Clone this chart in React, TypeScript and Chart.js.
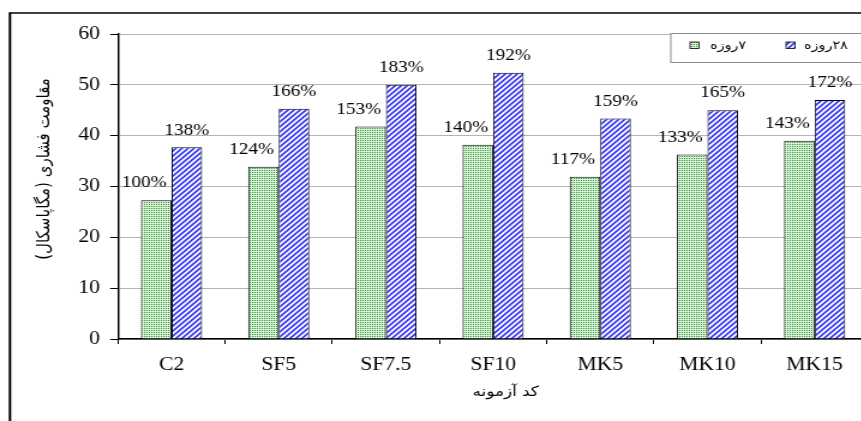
import { useEffect, useRef } from 'react';
import { Chart, registerables } from 'chart.js';

Chart.register(...registerables);

// Test specimens and compressive strength (MPa)
const categories = ['C2', 'SF5', 'SF7.5', 'SF10', 'MK5', 'MK10', 'MK15'];
const strength7 = [27.3, 33.9, 41.8, 38.2, 31.9, 36.3, 39.0];
const strength28 = [37.7, 45.3, 50.0, 52.4, 43.4, 45.0, 47.0];
// Strength relative to the 7-day control mix
const ratio7 = ['100%', '124%', '153%', '140%', '117%', '133%', '143%'];
const ratio28 = ['138%', '166%', '183%', '192%', '159%', '165%', '172%'];
const seriesNames = ['۷روزه', '۲۸روزه'];
const yTitle = 'مقاومت فشاری (مگاپاسکال)';
const xTitle = 'کد آزمونه';
const yMin = 0;
const yMax = 60;
const yStep = 10;

// The drawing is laid out in a narrower space and stretched sideways
const STRETCH = 1.2;
const W = 740;
const H = 421;
const SERIF = '"Liberation Serif", "Times New Roman", serif';
const ARABIC = '"DejaVu Sans", sans-serif';

function makeTile(w: number, h: number, paint: (g: CanvasRenderingContext2D) => void) {
  const c = document.createElement('canvas');
  c.width = w;
  c.height = h;
  const g = c.getContext('2d') as CanvasRenderingContext2D;
  paint(g);
  return c;
}

// light green ground with a regular grid of dark green dots
function dotPattern(ctx: CanvasRenderingContext2D) {
  const tile = makeTile(2, 2, (g) => {
    g.fillStyle = '#dcf1dc';
    g.fillRect(0, 0, 2, 2);
    g.fillStyle = '#2c962c';
    g.fillRect(0, 0, 1, 1);
  });
  return ctx.createPattern(tile, 'repeat') as CanvasPattern;
}

// white ground with rising blue diagonal stripes
function stripePattern(ctx: CanvasRenderingContext2D) {
  const tile = makeTile(5, 5, (g) => {
    g.fillStyle = '#ffffff';
    g.fillRect(0, 0, 5, 5);
    g.strokeStyle = '#3434f4';
    g.lineWidth = 1.6;
    for (let a = -5; a <= 5; a += 5) {
      g.beginPath();
      g.moveTo(a - 1, 6);
      g.lineTo(a + 6, -1);
      g.stroke();
    }
  });
  return ctx.createPattern(tile, 'repeat') as CanvasPattern;
}

export default function App() {
  const canvasRef = useRef<HTMLCanvasElement | null>(null);

  useEffect(() => {
    const canvas = canvasRef.current;
    if (!canvas) return;
    const ctx = canvas.getContext('2d') as CanvasRenderingContext2D;
    const green = dotPattern(ctx);
    const blue = stripePattern(ctx);

    const decor = {
      id: 'decor',
      beforeDraw(chart: Chart) {
        const c = chart.ctx;
        c.save();
        c.fillStyle = '#ffffff';
        c.fillRect(0, 0, chart.width, chart.height);
        c.strokeStyle = '#000';
        c.lineWidth = 1.5;
        c.beginPath();
        c.moveTo(8.3, 13);
        c.lineTo(chart.width + 5, 13);
        c.stroke();
        c.lineWidth = 2;
        c.beginPath();
        c.moveTo(8.3, 12.25);
        c.lineTo(8.3, chart.height + 5);
        c.stroke();
        c.restore();
      },
      afterDatasetsDraw(chart: Chart) {
        const c = chart.ctx;
        c.save();
        c.fillStyle = '#000';
        c.font = `16px ${SERIF}`;
        c.textAlign = 'center';
        c.textBaseline = 'middle';
        const lists = [ratio7, ratio28];
        const shift = [-10, 0];
        lists.forEach((labels, di) => {
          chart.getDatasetMeta(di).data.forEach((bar: any, i: number) => {
            c.fillText(labels[i], bar.x + shift[di], bar.y - 17);
          });
        });
        c.restore();
      },
      afterDraw(chart: Chart) {
        const c = chart.ctx;
        c.save();
        c.fillStyle = '#000';
        c.font = `15px ${ARABIC}`;
        c.direction = 'rtl';
        c.textAlign = 'center';
        c.textBaseline = 'middle';
        // vertical axis title
        c.save();
        c.translate(37.5, 169);
        c.rotate(-Math.PI / 2);
        c.fillText(yTitle, 0, 0);
        c.restore();
        // horizontal axis title
        c.font = `14px ${ARABIC}`;
        c.fillText(xTitle, 421.4, 392);

        // legend box
        c.strokeStyle = '#8a8a8a';
        c.lineWidth = 1;
        c.fillStyle = '#ffffff';
        c.fillRect(559, 33.5, chart.width, 29);
        c.strokeRect(559, 33.5, chart.width, 29);
        const fills = [green, blue];
        const swatchX = [575, 655];
        const textX = [591.7, 670];
        c.font = `12px ${ARABIC}`;
        c.textAlign = 'left';
        seriesNames.forEach((name, i) => {
          c.fillStyle = fills[i];
          c.fillRect(swatchX[i], 42, 7.5, 6.5);
          c.strokeStyle = '#000';
          c.lineWidth = 0.8;
          c.strokeRect(swatchX[i], 42, 7.5, 6.5);
          c.fillStyle = '#000';
          c.fillText(name, textX[i], 46);
        });
        c.restore();
      },
    };

    const chart = new Chart(canvas, {
      type: 'bar',
      data: {
        labels: categories,
        datasets: [
          {
            label: seriesNames[0],
            data: strength7,
            backgroundColor: green,
            borderColor: '#000',
            borderWidth: 1,
            categoryPercentage: 0.57,
            barPercentage: 1,
          },
          {
            label: seriesNames[1],
            data: strength28,
            backgroundColor: blue,
            borderColor: '#000',
            borderWidth: 1,
            categoryPercentage: 0.57,
            barPercentage: 1,
          },
        ],
      },
      options: {
        responsive: false,
        animation: false,
        events: [],
        layout: { padding: { top: 34, right: W - 723.5, left: 0, bottom: 0 } },
        plugins: {
          legend: { display: false },
          tooltip: { enabled: false },
          title: { display: false },
        },
        scales: {
          x: {
            grid: {
              display: true,
              drawOnChartArea: false,
              drawTicks: true,
              tickLength: 5,
              tickColor: '#000',
              tickWidth: 1,
              offset: true,
            },
            border: { display: true, color: '#000', width: 1.5 },
            ticks: {
              color: '#000',
              font: { family: SERIF, size: 18 },
              padding: 10,
              maxRotation: 0,
              autoSkip: false,
            },
            afterFit: (s: any) => {
              s.height = 82;
            },
          },
          y: {
            min: yMin,
            max: yMax,
            ticks: {
              stepSize: yStep,
              color: '#000',
              font: { family: SERIF, size: 18 },
              padding: 8.5,
            },
            grid: {
              color: '#b4b4b4',
              lineWidth: 1,
              tickColor: '#000',
              tickLength: 6.5,
            },
            border: { display: true, color: '#000', width: 1.5 },
            afterFit: (s: any) => {
              s.width = 98.3;
            },
          },
        },
      },
      plugins: [decor],
    });

    return () => chart.destroy();
  }, []);

  return (
    <div
      style={{
        position: 'fixed',
        left: 0,
        top: 0,
        width: 861,
        height: 421,
        overflow: 'hidden',
        background: '#fff',
      }}
    >
      <canvas
        ref={canvasRef}
        width={W}
        height={H}
        style={{ display: 'block', width: W * STRETCH, height: H }}
      />
    </div>
  );
}
